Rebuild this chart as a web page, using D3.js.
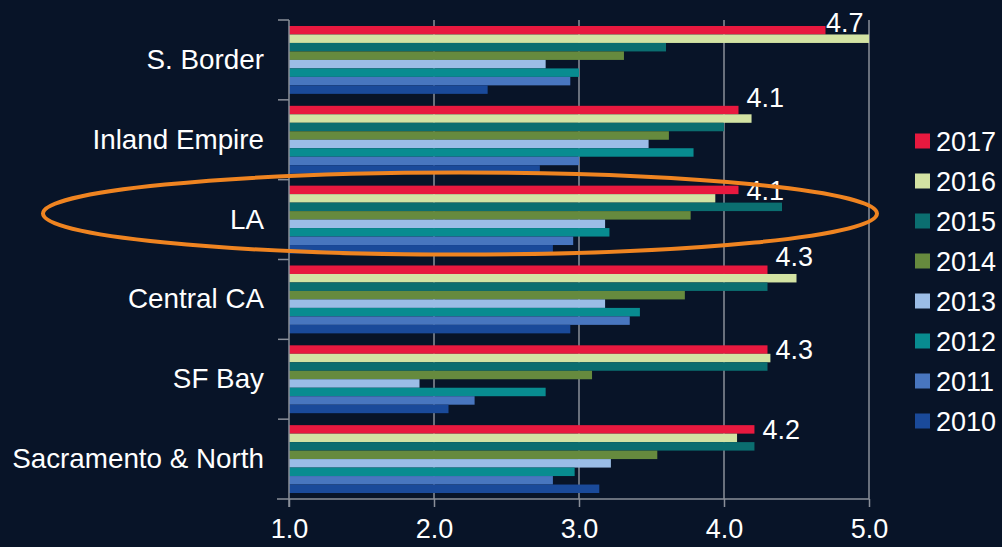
<!DOCTYPE html>
<html>
<head>
<meta charset="utf-8">
<script src="https://cdn.jsdelivr.net/npm/d3@7"></script>
<style>
	body { margin: 0; background: #081428; }
	text { font-family: "Liberation Sans", Arial, sans-serif; fill: #ffffff; }
</style>
</head>
<body>
<script>
var regions = ["S. Border", "Inland Empire", "LA", "Central CA", "SF Bay", "Sacramento & North"];
var years = ["2017", "2016", "2015", "2014", "2013", "2012", "2011", "2010"];

// one array per year, values in the order of regions
var v2017 = [4.70, 4.10, 4.10, 4.30, 4.30, 4.21];
var v2016 = [5.00, 4.19, 3.94, 4.50, 4.32, 4.09];
var v2015 = [3.60, 4.00, 4.40, 4.30, 4.30, 4.21];
var v2014 = [3.31, 3.62, 3.77, 3.73, 3.09, 3.54];
var v2013 = [2.77, 3.48, 3.18, 3.18, 1.90, 3.22];
var v2012 = [3.00, 3.79, 3.21, 3.42, 2.77, 2.97];
var v2011 = [2.94, 3.00, 2.96, 3.35, 2.28, 2.82];
var v2010 = [2.37, 2.73, 2.82, 2.94, 2.10, 3.14];

var labels2017 = ["4.7", "4.1", "4.1", "4.3", "4.3", "4.2"];
var xTicks = [1, 2, 3, 4, 5];
var highlighted = "LA";

var colors = ["#e8193f", "#d3e3a3", "#0b6e70", "#668a3e", "#9bbde6", "#088c90", "#4876bf", "#1a4a9a"];

var seriesValues = [v2017, v2016, v2015, v2014, v2013, v2012, v2011, v2010];

var rows = [];
regions.forEach(function(r, i) {
	years.forEach(function(yr, j) {
		rows.push({ region: r, year: yr, value: seriesValues[j][i] });
	});
});

var width = 1002, height = 547;
var plotLeft = 289, plotRight = 869, plotTop = 20, plotBottom = 499;

var svg = d3.select("body").append("svg")
			.attr("width", width)
			.attr("height", height);

svg.append("rect")
	.attr("width", width)
	.attr("height", height)
	.attr("fill", "#081428");

var x = d3.scaleLinear().domain([1, 5]).range([plotLeft, plotRight]);

var y = d3.scaleBand()
			.domain(regions)
			.range([plotTop, plotBottom])
			.paddingInner(0.15)
			.paddingOuter(0.075);

var yInner = d3.scaleBand()
				.domain(years)
				.range([0, y.bandwidth()]);

var color = d3.scaleOrdinal().domain(years).range(colors);

// grid lines
svg.selectAll("line.grid")
	.data(xTicks.slice(1))
	.enter()
	.append("line")
	.attr("class", "grid")
	.attr("x1", function(d) { return x(d); })
	.attr("x2", function(d) { return x(d); })
	.attr("y1", plotTop)
	.attr("y2", plotBottom)
	.attr("stroke", "#8a8f99")
	.attr("stroke-width", 1.5);

// bars
svg.selectAll("rect.bar")
	.data(rows)
	.enter()
	.append("rect")
	.attr("class", "bar")
	.attr("x", x(1))
	.attr("y", function(d) { return y(d.region) + yInner(d.year); })
	.attr("width", function(d) { return x(d.value) - x(1); })
	.attr("height", yInner.bandwidth())
	.attr("fill", function(d) { return color(d.year); });

// x axis
var xAxis = svg.append("g")
				.attr("transform", "translate(0," + plotBottom + ")")
				.call(d3.axisBottom(x)
						.tickValues(xTicks)
						.tickFormat(d3.format(".1f"))
						.tickSize(8)
						.tickSizeOuter(0));

xAxis.select(".domain").remove();
xAxis.append("line")
	.attr("x1", plotLeft - 12)
	.attr("x2", plotRight)
	.attr("stroke", "#8a8f99")
	.attr("stroke-width", 1.5);
xAxis.selectAll(".tick line")
	.attr("stroke", "#8a8f99")
	.attr("stroke-width", 1.5);
xAxis.selectAll(".tick text")
	.attr("y", 20)
	.attr("dy", "0.71em")
	.style("font-size", "27px")
	.attr("fill", "#ffffff");

// y axis with ticks between the groups
svg.append("line")
	.attr("x1", plotLeft)
	.attr("x2", plotLeft)
	.attr("y1", plotTop)
	.attr("y2", plotBottom + 8)
	.attr("stroke", "#8a8f99")
	.attr("stroke-width", 1.5);

svg.selectAll("line.ytick")
	.data(d3.range(regions.length))
	.enter()
	.append("line")
	.attr("class", "ytick")
	.attr("x1", plotLeft - 11)
	.attr("x2", plotLeft)
	.attr("y1", function(i) { return plotTop + i * y.step(); })
	.attr("y2", function(i) { return plotTop + i * y.step(); })
	.attr("stroke", "#8a8f99")
	.attr("stroke-width", 1.5);

svg.selectAll("text.region")
	.data(regions)
	.enter()
	.append("text")
	.attr("class", "region")
	.attr("x", plotLeft - 25)
	.attr("y", function(d) { return y(d) + y.bandwidth() / 2 - 1; })
	.attr("dy", "0.36em")
	.attr("text-anchor", "end")
	.style("font-size", "27.8px")
	.text(function(d) { return d; });

// value labels for 2017: next to the red bar, lifted when the 2016 bar is in the way
svg.selectAll("text.value")
	.data(regions)
	.enter()
	.append("text")
	.attr("class", "value")
	.style("font-size", "27px")
	.each(function(d, i) {
		var lx = x(v2017[i]) + 8;
		var cy = y(d) + yInner("2017") + yInner.bandwidth() / 2;
		if (lx + 40 > plotRight) {
			lx = plotRight - 43;
			cy = cy - 8;
		} else if (x(v2016[i]) > lx) {
			cy = cy - 13;
		}
		d3.select(this)
			.attr("x", lx)
			.attr("y", cy)
			.attr("dy", "0.36em")
			.text(labels2017[i]);
	});

// legend
var legend = svg.selectAll("g.legend")
				.data(years)
				.enter()
				.append("g")
				.attr("class", "legend")
				.attr("transform", function(d, i) { return "translate(915," + (141 + i * 40) + ")"; });

legend.append("rect")
	.attr("y", -7.5)
	.attr("width", 15)
	.attr("height", 15)
	.attr("fill", function(d) { return color(d); });

legend.append("text")
	.attr("x", 21)
	.attr("dy", "0.36em")
	.style("font-size", "27px")
	.text(function(d) { return d; });

// orange ring around the highlighted region
svg.append("ellipse")
	.attr("cx", 460)
	.attr("cy", y(highlighted) + y.bandwidth() / 2 - 6)
	.attr("rx", 417)
	.attr("ry", 41)
	.attr("fill", "none")
	.attr("stroke", "#ef8421")
	.attr("stroke-width", 4);
</script>
</body>
</html>
